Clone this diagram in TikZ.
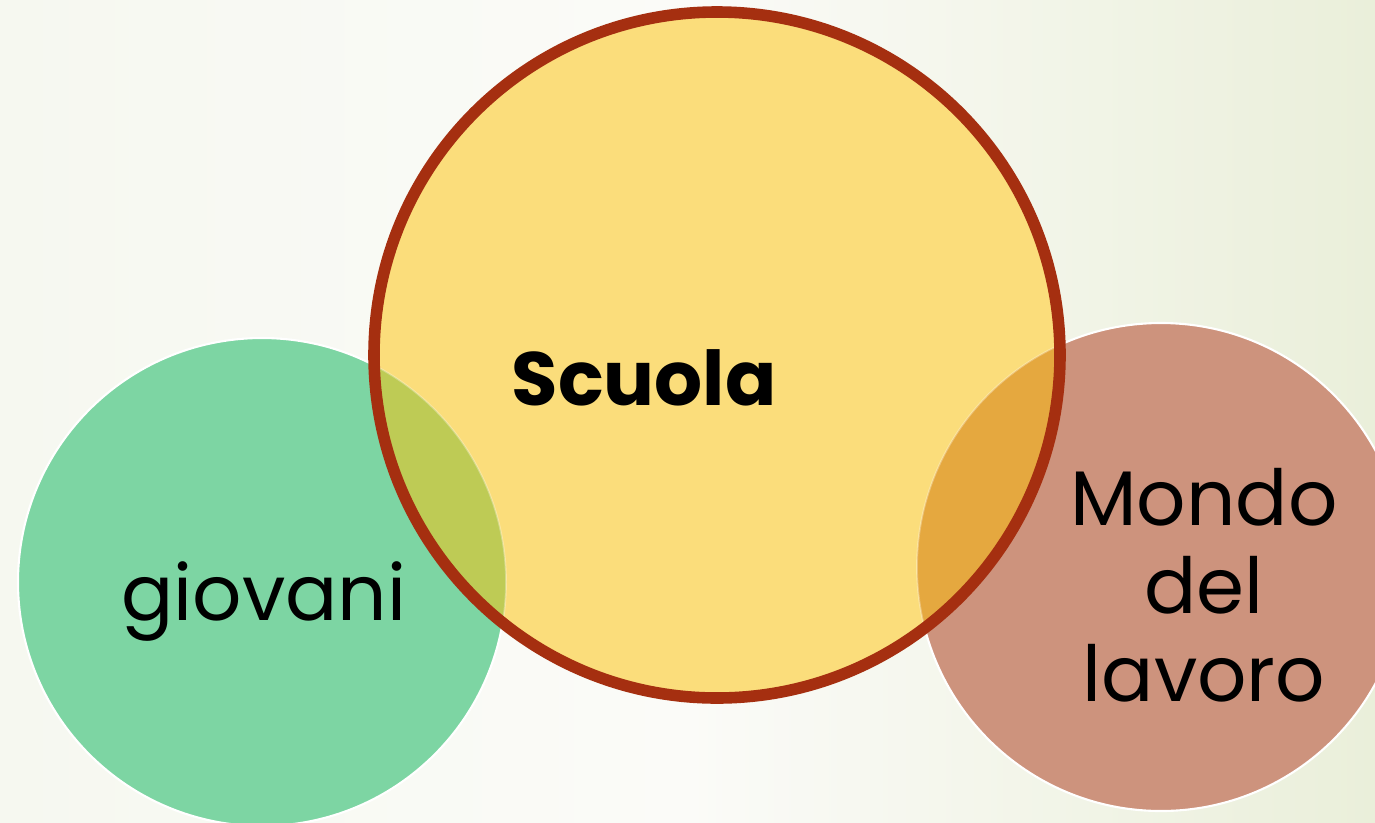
\documentclass[tikz,border=0pt]{standalone}
\usepackage{fontspec}
\setmainfont{Poppins}
\usepackage{xcolor}
\usetikzlibrary{positioning}
\definecolor{bgleft}{HTML}{F6F8F0}
\definecolor{bgmid}{HTML}{FBFBF8}
\definecolor{bgright}{HTML}{EAEFDA}
\definecolor{cgreen}{HTML}{7DD5A3}
\definecolor{cyellow}{HTML}{FBDD7B}
\definecolor{cbrown}{HTML}{CD937D}
\definecolor{colive}{HTML}{BECB55}
\definecolor{corange}{HTML}{E5A83F}
\definecolor{crim}{HTML}{A52F10}
\tikzset{
  disc/.style={draw=white,line width=1.2pt},
  label/.style={align=center,text=black,inner sep=0pt},
}

\begin{document}
\begin{tikzpicture}[x=0.02cm,y=-0.02cm]
  \fill[left color=bgleft,right color=bgright,middle color=bgmid] (0,0) rectangle (1375,822);
  \useasboundingbox (0,0) rectangle (1375,822);
  \coordinate (g) at (262,582);
  \coordinate (s) at (717,355);
  \coordinate (m) at (1161,567);
  % the two outer circles
  \filldraw[disc,fill=cgreen] (g) circle (244);
  \filldraw[disc,fill=cbrown] (m) circle (244);
  % the big one
  \fill[cyellow] (s) circle (343);
  \begin{scope}
    \clip (s) circle (343);
    \fill[colive] (g) circle (244);
    \fill[corange] (m) circle (244);
    \draw[white,opacity=0.3,line width=1pt] (g) circle (244) (m) circle (244);
  \end{scope}
  \draw[crim,line width=6.6pt] (s) circle (343);
  % texts
  \node[label,font=\bfseries\fontsize{43}{50}\selectfont] (scuola) at (644,378) {Scuola};
  \node[label,font=\fontsize{44}{55}\selectfont] (giovani) at (264,602) {giovani};
  \node[label,font=\fontsize{44}{50}\selectfont] (lavoro) at (1204,585) {Mondo\\del\\lavoro};
\end{tikzpicture}
\end{document}
